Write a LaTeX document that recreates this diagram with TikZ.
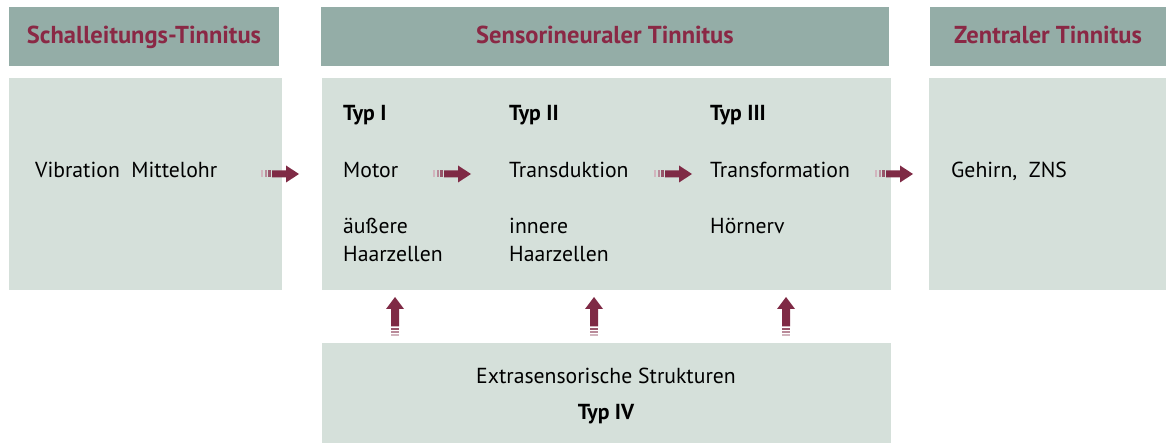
\documentclass[tikz,border=0pt]{standalone}
\usepackage{fontspec}
\setmainfont{PT Sans}
\definecolor{hdr}{HTML}{94ADA7}
\definecolor{bod}{HTML}{D5E0DA}
\definecolor{wine}{HTML}{7F2A45}
\definecolor{hdrtxt}{HTML}{8A2845}
\begin{document}
\begin{tikzpicture}[x=1pt,y=-1pt,
  htext/.style={text=hdrtxt,font=\fontsize{24.5}{28}\selectfont\bfseries,inner sep=0pt,anchor=base},
  btext/.style={text=black,font=\fontsize{21.7}{26}\selectfont,inner sep=0pt,anchor=base west},
  bold/.style={btext,font=\fontsize{21.7}{26}\selectfont\bfseries},
  pics/harrow/.style={code={
    \fill[wine!35] (0,-3.5) rectangle (2,3.5);
    \fill[wine!55] (3.5,-3.5) rectangle (5.5,3.5);
    \fill[wine!80] (7,-3.5) rectangle (9.5,3.5);
    \fill[wine] (11,-3.5) -- (25,-3.5) -- (25,-8.5) -- (38,0) -- (25,8.5) -- (25,3.5) -- (11,3.5) -- cycle;
  }},
  pics/varrow/.style={code={
    \fill[wine!35] (-4,0) rectangle (4,-1.6);
    \fill[wine!55] (-4,-3) rectangle (4,-4.8);
    \fill[wine!80] (-4,-6.2) rectangle (4,-8.2);
    \fill[wine] (-4,-9.6) -- (-4,-27) -- (-9,-27) -- (0,-39) -- (9,-27) -- (4,-27) -- (4,-9.6) -- cycle;
  }}
]
\useasboundingbox (0,0) rectangle (1166,443);
% headers
\fill[hdr] (9,7) rectangle (279,66); \node[htext] (h1) at (144,44) {Schalleitungs-Tinnitus};
\fill[hdr] (321,7) rectangle (889,66); \node[htext] (h2) at (605,44) {Sensorineuraler Tinnitus};
\fill[hdr] (930,7) rectangle (1166,66); \node[htext] (h3) at (1048,44) {Zentraler Tinnitus};
% bodies
\fill[bod] (9,78) rectangle (282,290);
\fill[bod] (322,78) rectangle (891,290);
\fill[bod] (929,78) rectangle (1166,290);
\fill[bod] (322,343) rectangle (891,443);
% texts
\node[btext] (vm) at (35,178) {Vibration\ \ Mittelohr};
\node[bold] (t1) at (343,121) {Typ I};
\node[btext] (m1) at (343,178) {Motor};
\node[btext] (a1) at (343,234) {äußere};
\node[btext] (b1) at (343,262) {Haarzellen};
\node[bold] (t2) at (509,121) {Typ II};
\node[btext] (m2) at (509,178) {Transduktion};
\node[btext] (a2) at (509,234) {innere};
\node[btext] (b2) at (509,262) {Haarzellen};
\node[bold] (t3) at (710,121) {Typ III};
\node[btext] (m3) at (710,178) {Transformation};
\node[btext] (a3) at (710,234) {Hörnerv};
\node[btext] (gz) at (951,178) {Gehirn,\ \ ZNS};
\node[btext,anchor=base] (ex) at (606,383) {Extrasensorische Strukturen};
\node[bold,anchor=base] (t4) at (606,419) {Typ IV};
% arrows
\coordinate (ha1) at (261,174); \pic at (ha1) {harrow};
\coordinate (ha2) at (433,174); \pic at (ha2) {harrow};
\coordinate (ha3) at (654,174); \pic at (ha3) {harrow};
\coordinate (ha4) at (875,174); \pic at (ha4) {harrow};
\coordinate (va1) at (395,336); \pic at (va1) {varrow};
\coordinate (va2) at (594,336); \pic at (va2) {varrow};
\coordinate (va3) at (786,336); \pic at (va3) {varrow};
\end{tikzpicture}
\end{document}
